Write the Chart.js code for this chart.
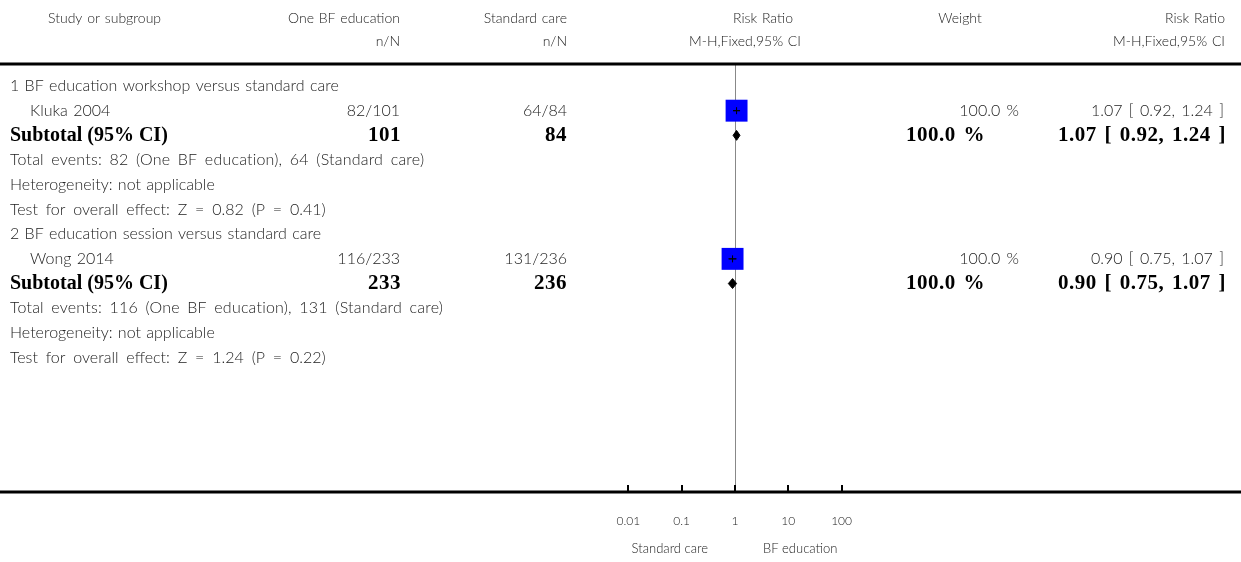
<!DOCTYPE html>
<html>
<head>
<meta charset="utf-8">
<script src="https://cdn.jsdelivr.net/npm/chart.js@4.4.0/dist/chart.umd.min.js"></script>
<style>
html,body{margin:0;padding:0;background:#fff;}
#wrap{width:1241px;height:562px;}
</style>
</head>
<body>
<div id="wrap"><canvas id="c" width="1241" height="562"></canvas></div>
<script>
// ---- data ----
const groupTitles = ['1 BF education workshop versus standard care', '2 BF education session versus standard care'];
const studies = ['Kluka 2004', 'Wong 2014'];
const eventsBF = [82, 116];
const totalBF = [101, 233];
const eventsSC = [64, 131];
const totalSC = [84, 236];
const riskRatio = [1.07, 0.90];
const ciLow = [0.92, 0.75];
const ciHigh = [1.24, 1.07];
const weights = [100.0, 100.0];
const subRR = [1.07, 0.90];
const subLow = [0.92, 0.75];
const subHigh = [1.24, 1.07];
const zValues = [0.82, 1.24];
const pValues = [0.41, 0.22];
const tickValues = [0.01, 0.1, 1, 10, 100];
const tickLabels = ['0.01', '0.1', '1', '10', '100'];
const favoursLeft = 'Standard care';
const favoursRight = 'BF education';

const L = Math.log10;
const studyRow = g => g * 6 + 1;
const subRow = g => g * 6 + 2;

const boxData = riskRatio.map((v, g) => ({x: L(v), y: studyRow(g)}));
const ciDatasets = riskRatio.map((v, g) => ({
  type: 'scatter', showLine: true, borderColor: '#000', borderWidth: 1, pointRadius: 0,
  data: [{x: L(ciLow[g]), y: studyRow(g)}, {x: L(ciHigh[g]), y: studyRow(g)}], order: 0
}));
const diamondDatasets = subRR.map((v, g) => ({
  type: 'scatter', showLine: true, borderColor: '#000', backgroundColor: '#000', borderWidth: 1,
  pointRadius: 0, fill: 'shape', tension: 0,
  data: [{x: L(subLow[g]), y: subRow(g)}, {x: L(v), y: subRow(g) - 0.2}, {x: L(subHigh[g]), y: subRow(g)},
         {x: L(v), y: subRow(g) + 0.2}, {x: L(subLow[g]), y: subRow(g)}], order: 0
}));

const SANS = '"Lato", "Open Sans", sans-serif';
const SERIF = '"Liberation Serif", "DejaVu Serif", serif';
const TXT = '#222';
const REG = '300 16px ' + SANS;
const HEAD = '300 14px ' + SANS;
const BOLD = 'bold 20px ' + SERIF;
const BOLDNUM = 'bold 21px ' + SERIF;

const forestPlugin = {
  id: 'forest',
  beforeDatasetsDraw(chart) {
    const {ctx, chartArea: a, scales: {x}} = chart;
    ctx.save();
    ctx.strokeStyle = '#888';
    ctx.lineWidth = 1;
    const cx = Math.round(x.getPixelForValue(0)) + 0.5;
    ctx.beginPath(); ctx.moveTo(cx, a.top); ctx.lineTo(cx, a.bottom); ctx.stroke();
    ctx.restore();
  },
  afterDraw(chart) {
    const {ctx, chartArea: a, scales: {x, y}, width} = chart;
    ctx.save();
    ctx.fillStyle = '#000';
    ctx.fillRect(0, a.top - 1.5, width, 3);
    ctx.fillRect(0, a.bottom - 1.5, width, 3);
    ctx.strokeStyle = '#000'; ctx.lineWidth = 2;
    tickValues.forEach(v => {
      const px = Math.round(x.getPixelForValue(L(v)));
      ctx.beginPath(); ctx.moveTo(px, a.bottom - 7); ctx.lineTo(px, a.bottom); ctx.stroke();
    });
    const c1 = x.getPixelForValue(0);
    ctx.font = '300 13px ' + SANS; ctx.fillStyle = TXT; ctx.textBaseline = 'middle';
    ctx.textAlign = 'right'; ctx.fillText(favoursLeft, c1 - 27, a.bottom + 57);
    ctx.textAlign = 'left'; ctx.fillText(favoursRight, c1 + 28, a.bottom + 57);

    const T = (s, px, py, align, font, ws, ls) => {
      ctx.font = font || REG;
      if ('wordSpacing' in ctx) ctx.wordSpacing = (ws === undefined ? 2 : ws) + 'px';
      if ('letterSpacing' in ctx) ctx.letterSpacing = (ls || 0) + 'px';
      ctx.textAlign = align; ctx.fillText(s, px, py);
    };
    ctx.fillStyle = TXT;
    const h1 = a.top - 46, h2 = a.top - 23;
    T('Study or subgroup', 48, h1, 'left', HEAD, 1);
    T('One BF education', 400, h1, 'right', HEAD, 1); T('n/N', 400, h2, 'right', HEAD);
    T('Standard care', 567, h1, 'right', HEAD, 1); T('n/N', 567, h2, 'right', HEAD);
    T('Risk Ratio', 763, h1, 'center', HEAD, 1); T('M-H,Fixed,95% CI', 745, h2, 'center', HEAD, 1);
    T('Weight', 960, h1, 'center', HEAD);
    T('Risk Ratio', 1225, h1, 'right', HEAD, 1); T('M-H,Fixed,95% CI', 1225, h2, 'right', HEAD, 1);

    groupTitles.forEach((gt, g) => {
      const r0 = y.getPixelForValue(g * 6);
      const rs = y.getPixelForValue(studyRow(g));
      const rt = y.getPixelForValue(subRow(g));
      ctx.fillStyle = TXT;
      T(gt, 10, r0, 'left', REG, 1);
      T(studies[g], 30, rs, 'left', REG, 1);
      T(eventsBF[g] + '/' + totalBF[g], 400, rs, 'right');
      T(eventsSC[g] + '/' + totalSC[g], 567, rs, 'right');
      T(weights[g].toFixed(1) + ' %', 1019, rs, 'right');
      T(riskRatio[g].toFixed(2) + ' [ ' + ciLow[g].toFixed(2) + ', ' + ciHigh[g].toFixed(2) + ' ]', 1224, rs, 'right');
      ctx.fillStyle = '#000';
      T('Subtotal (95% CI)', 10, rt, 'left', BOLD, 0);
      T(String(totalBF[g]), 401, rt, 'right', BOLDNUM, 0, 0.5);
      T(String(totalSC[g]), 567, rt, 'right', BOLDNUM, 0, 0.5);
      T(weights[g].toFixed(1) + ' %', 985, rt, 'right', BOLDNUM, 2, 0.5);
      T(subRR[g].toFixed(2) + ' [ ' + subLow[g].toFixed(2) + ', ' + subHigh[g].toFixed(2) + ' ]', 1226, rt, 'right', BOLDNUM, 2, 0.5);
      ctx.fillStyle = TXT;
      T('Total events: ' + eventsBF[g] + ' (One BF education), ' + eventsSC[g] + ' (Standard care)', 10, y.getPixelForValue(g * 6 + 3), 'left', REG, 3, 0.2);
      T('Heterogeneity: not applicable', 10, y.getPixelForValue(g * 6 + 4), 'left', REG, 1);
      T('Test for overall effect: Z = ' + zValues[g].toFixed(2) + ' (P = ' + pValues[g].toFixed(2) + ')', 10, y.getPixelForValue(g * 6 + 5), 'left', REG, 3.5);
    });
    ctx.restore();
  }
};

new Chart(document.getElementById('c'), {
  type: 'scatter',
  data: {
    datasets: [
      {data: boxData, pointStyle: 'rect', pointRadius: 15.5, pointHoverRadius: 15.5,
       backgroundColor: '#0000ff', borderWidth: 0, order: 2},
      ...ciDatasets,
      {data: boxData, pointStyle: 'cross', pointRadius: 3.5, borderColor: '#000',
       borderWidth: 1, order: 0},
      ...diamondDatasets
    ]
  },
  options: {
    responsive: false,
    animation: false,
    events: [],
    layout: {autoPadding: false, padding: {top: 64, left: 0, right: 0, bottom: 0}},
    plugins: {legend: {display: false}, tooltip: {enabled: false}},
    scales: {
      x: {
        type: 'linear',
        bounds: 'data',
        min: -735 / 53.3,
        max: (1241 - 735) / 53.3,
        grid: {display: false, drawTicks: false},
        border: {display: false},
        afterBuildTicks: s => { s.ticks = tickValues.map(v => ({value: L(v)})); },
        afterFit: s => { s.height = 70; s.paddingLeft = 0; s.paddingRight = 0; },
        ticks: {
          autoSkip: false, maxRotation: 0, padding: 22, color: TXT,
          font: {family: SANS, size: 12, weight: 300},
          callback: (v, i) => tickLabels[i]
        }
      },
      y: {
        type: 'linear', reverse: true, min: -0.89, max: 16.44, display: false
      }
    }
  },
  plugins: [forestPlugin]
});
</script>
</body>
</html>
